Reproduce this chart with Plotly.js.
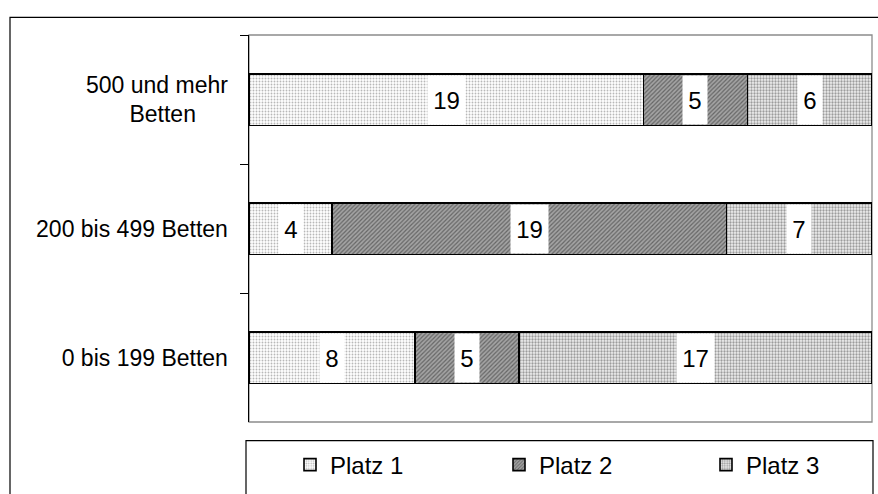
<!DOCTYPE html>
<html>
<head>
<meta charset="utf-8">
<script src="https://cdn.plot.ly/plotly-3.0.1.min.js"></script>
<style>
html,body{margin:0;padding:0;background:#fff;}
#chart{width:878px;height:494px;}
</style>
</head>
<body>
<div id="chart"></div>
<script>
// Data (top-to-bottom as in the picture)
const categories = ['500 und mehr<br>Betten\u00A0\u00A0\u00A0\u00A0\u00A0', '200 bis 499 Betten', '0 bis 199 Betten'];
const seriesNames = ['Platz 1', 'Platz 2', 'Platz 3'];
const platz1 = [19, 4, 8];
const platz2 = [5, 19, 5];
const platz3 = [6, 7, 17];

const seriesValues = [platz1, platz2, platz3];
const patterns = [
  {shape: '.', bgcolor: '#ffffff', fgcolor: '#b8b8b8', size: 3, solidity: 0.3},
  {shape: '/', bgcolor: '#a4a4a4', fgcolor: '#666666', size: 3, solidity: 0.4},
  {shape: '.', bgcolor: '#efefef', fgcolor: '#9c9c9c', size: 3, solidity: 0.45}
];
const legendIds = ['legend', 'legend2', 'legend3'];

const FONT = 'Liberation Sans, Arial, sans-serif';

const traces = seriesValues.map((vals, i) => ({
  type: 'bar',
  orientation: 'h',
  name: seriesNames[i],
  legend: legendIds[i],
  x: vals,
  y: categories,
  marker: {
    color: patterns[i].bgcolor,
    pattern: patterns[i],
    line: {color: '#000000', width: 1.6}
  },
  hoverinfo: 'skip'
}));

// Value labels with white boxes
const annotations = [];
categories.forEach((cat, c) => {
  let start = 0;
  seriesValues.forEach((vals) => {
    const v = vals[c];
    const t = String(v);
    annotations.push({
      x: start + v / 2, y: cat, xref: 'x', yref: 'y',
      text: t, showarrow: false,
      bgcolor: '#ffffff',
      width: 13 * t.length + 9, height: 46,
      font: {family: FONT, size: 24, color: '#000'}
    });
    start += v;
  });
});

const L = 249, R = 872, T = 35, B = 430;
const W = R - L, H = B - T;
const px = (x) => (x - L) / W;
const py = (y) => (B - y) / H;

function legendAt(xpx) {
  return {
    orientation: 'h',
    x: px(xpx), xanchor: 'left',
    y: py(451), yanchor: 'top',
    font: {family: FONT, size: 24, color: '#000'},
    bgcolor: 'rgba(0,0,0,0)', borderwidth: 0
  };
}

const layout = {
  width: 878, height: 494,
  margin: {l: L, r: 878 - R, t: T, b: 494 - B, pad: 0},
  paper_bgcolor: '#ffffff', plot_bgcolor: '#ffffff',
  barmode: 'stack',
  bargap: 0.6,
  font: {family: FONT, size: 23, color: '#000'},
  showlegend: true,
  legend: legendAt(290),
  legend2: legendAt(499),
  legend3: legendAt(706),
  xaxis: {
    range: [0, 30], showgrid: false, zeroline: false,
    showticklabels: false, ticks: '', showline: false, fixedrange: true
  },
  yaxis: {
    type: 'category', range: [2.5, -0.5],
    showgrid: false, zeroline: false,
    showline: true, linecolor: '#000', linewidth: 1.5,
    ticks: 'outside', tickson: 'boundaries', ticklen: 8, tickcolor: '#000', tickwidth: 1,
    ticklabelstandoff: 15,
    tickfont: {family: FONT, size: 23, color: '#000'},
    fixedrange: true
  },
  annotations: annotations,
  shapes: [
    // plot area border (gray)
    {type: 'rect', xref: 'paper', yref: 'paper', x0: 0, x1: 1, y0: 0, y1: 1,
     line: {color: '#8c8c8c', width: 1.3}, layer: 'below'},
    // outer chart border
    {type: 'rect', xref: 'paper', yref: 'paper', x0: px(10), x1: px(900), y0: py(520), y1: py(17),
     line: {color: '#000', width: 1.2}, layer: 'below'},
    // legend box
    {type: 'rect', xref: 'paper', yref: 'paper', x0: px(246), x1: px(873), y0: py(520), y1: py(449),
     line: {color: '#000', width: 1.2}, layer: 'below'}
  ]
};

Plotly.newPlot('chart', traces, layout, {staticPlot: true, displayModeBar: false});
</script>
</body>
</html>
